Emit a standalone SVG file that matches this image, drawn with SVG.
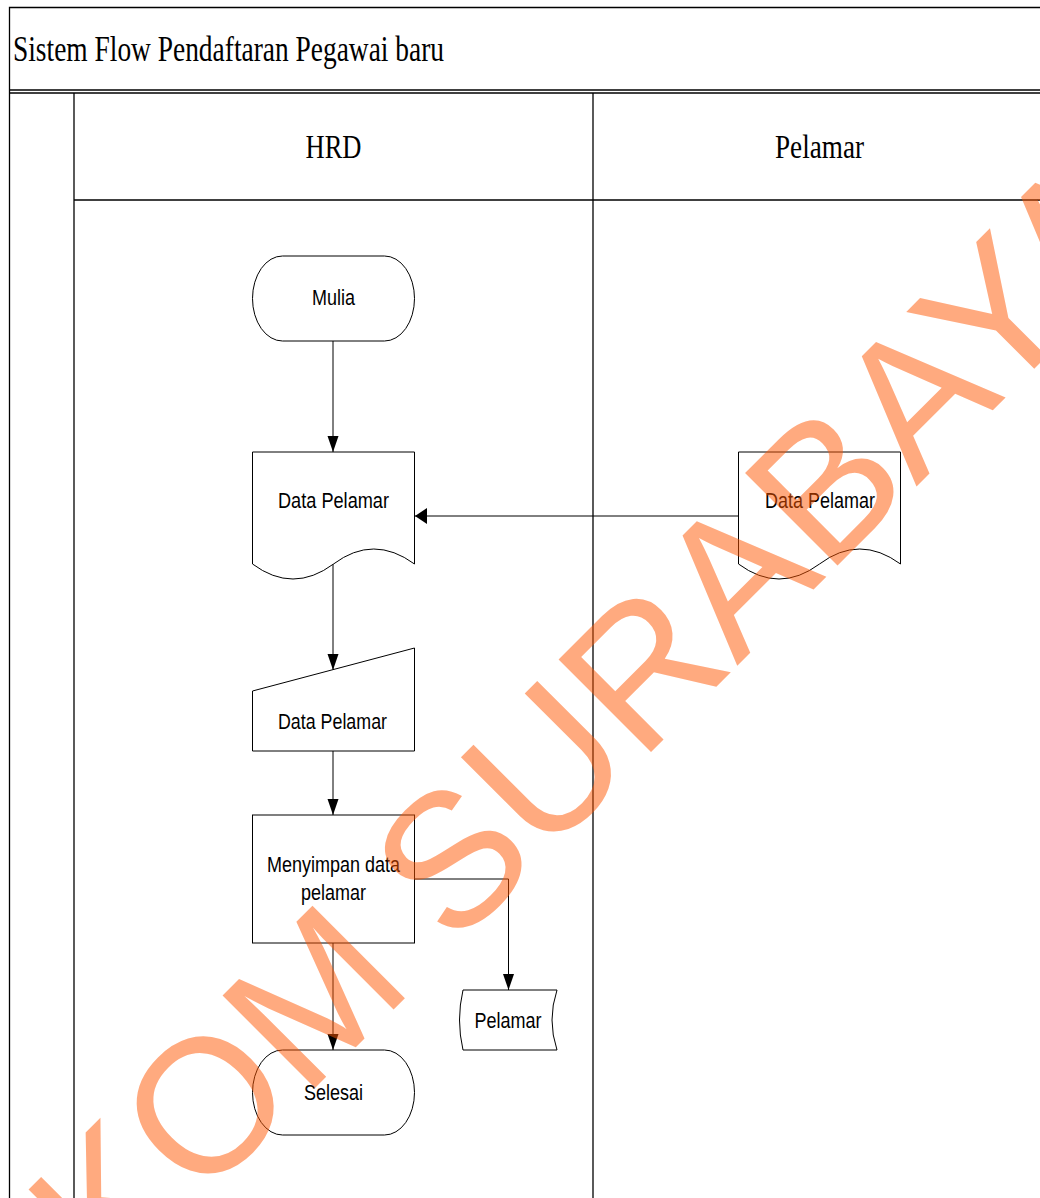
<svg xmlns="http://www.w3.org/2000/svg" width="1040" height="1198" viewBox="0 0 1040 1198">
  <style>
    .pool { fill: none; stroke: #000; stroke-width: 1.3; }
    .shape { fill: #fff; stroke: #000; stroke-width: 1; }
    .conn { fill: none; stroke: #000; stroke-width: 1; }
    .lane { font-family: "Liberation Serif", "Times New Roman", serif; font-size: 34px; fill: #000; }
    .title { font-size: 36px; }
    .lbl { font-family: "Liberation Sans", Arial, sans-serif; font-size: 22px; fill: #000; text-anchor: middle; }
    .wm { font-family: "Liberation Sans", Arial, sans-serif; font-size: 190px; fill: #FF5500; fill-opacity: 0.5; text-anchor: middle; }
  </style>
  <defs>
    <marker id="arrowV" markerUnits="userSpaceOnUse" markerWidth="18" markerHeight="14" refX="16" refY="7" orient="auto">
      <path d="M0,1.5 L16,7 L0,12.5 z" fill="#000"/>
    </marker>
    <marker id="arrowH" markerUnits="userSpaceOnUse" markerWidth="14" markerHeight="18" refX="12" refY="8" orient="auto">
      <path d="M0,0 L12,8 L0,16 z" fill="#000"/>
    </marker>
  </defs>
  <rect width="1040" height="1198" fill="#fff"/>

  <g id="pool">
    <path class="pool" d="M9.5,1198 V7.5 H1040"/>
    <line class="pool" x1="9.5" y1="90" x2="1040" y2="90"/>
    <line class="pool" x1="9.5" y1="93" x2="1040" y2="93"/>
    <line class="pool" x1="74" y1="93" x2="74" y2="1198"/>
    <line class="pool" x1="74" y1="200" x2="1040" y2="200"/>
    <line class="pool" x1="593" y1="93" x2="593" y2="1198"/>
    <text class="lane title" x="13" y="61" textLength="431" lengthAdjust="spacingAndGlyphs">Sistem Flow Pendaftaran Pegawai baru</text>
    <text class="lane" x="333.5" y="158" text-anchor="middle" textLength="56" lengthAdjust="spacingAndGlyphs">HRD</text>
    <text class="lane" x="819.5" y="158" text-anchor="middle" textLength="89" lengthAdjust="spacingAndGlyphs">Pelamar</text>
  </g>

  <g id="connectors">
    <line class="conn" x1="333" y1="341" x2="333" y2="452" marker-end="url(#arrowV)"/>
    <line class="conn" x1="738" y1="516" x2="415" y2="516" marker-end="url(#arrowH)"/>
    <line class="conn" x1="333" y1="564" x2="333" y2="670" marker-end="url(#arrowV)"/>
    <line class="conn" x1="333" y1="751" x2="333" y2="815" marker-end="url(#arrowV)"/>
    <polyline class="conn" points="414,879 508.5,879 508.5,990" marker-end="url(#arrowV)"/>
    <line class="conn" x1="333" y1="943" x2="333" y2="1050" marker-end="url(#arrowV)"/>
  </g>

  <g id="node-mulia">
    <rect class="shape" x="252.5" y="256" width="162" height="85" rx="30" ry="42.5"/>
    <text class="lbl" x="333.5" y="305" textLength="43" lengthAdjust="spacingAndGlyphs">Mulia</text>
  </g>

  <g id="node-doc-hrd">
    <path class="shape" d="M252.5,452 H414.5 V564 Q373.5,534 333.5,564 Q293,594 252.5,564 Z"/>
    <text class="lbl" x="333.5" y="508" textLength="111" lengthAdjust="spacingAndGlyphs">Data Pelamar</text>
  </g>

  <g id="node-doc-pelamar">
    <path class="shape" d="M738.5,452 H900.5 V564 Q859.5,534 819.5,564 Q779,594 738.5,564 Z"/>
    <text class="lbl" x="820" y="508" textLength="110" lengthAdjust="spacingAndGlyphs">Data Pelamar</text>
  </g>

  <g id="node-input">
    <path class="shape" d="M252.5,691 L414.5,648 V751 H252.5 Z"/>
    <text class="lbl" x="332.5" y="729" textLength="109" lengthAdjust="spacingAndGlyphs">Data Pelamar</text>
  </g>

  <g id="node-process">
    <rect class="shape" x="252.5" y="815" width="162" height="128"/>
    <text class="lbl" x="333.5" y="872" textLength="133" lengthAdjust="spacingAndGlyphs">Menyimpan data</text>
    <text class="lbl" x="333.5" y="900" textLength="65" lengthAdjust="spacingAndGlyphs">pelamar</text>
  </g>

  <g id="node-storage">
    <path class="shape" d="M463,990 H557 Q547,1020 557,1050 H463 Q456,1020 463,990 Z"/>
    <text class="lbl" x="508" y="1028" textLength="67" lengthAdjust="spacingAndGlyphs">Pelamar</text>
  </g>

  <g id="node-selesai">
    <rect class="shape" x="252.5" y="1050" width="162" height="85" rx="30" ry="42.5"/>
    <text class="lbl" x="333.5" y="1100" textLength="59" lengthAdjust="spacingAndGlyphs">Selesai</text>
  </g>

  <g id="watermark">
    <text class="wm" x="533" y="870" transform="rotate(-45 533 870)">STIKOM SURABAYA</text>
  </g>
</svg>
